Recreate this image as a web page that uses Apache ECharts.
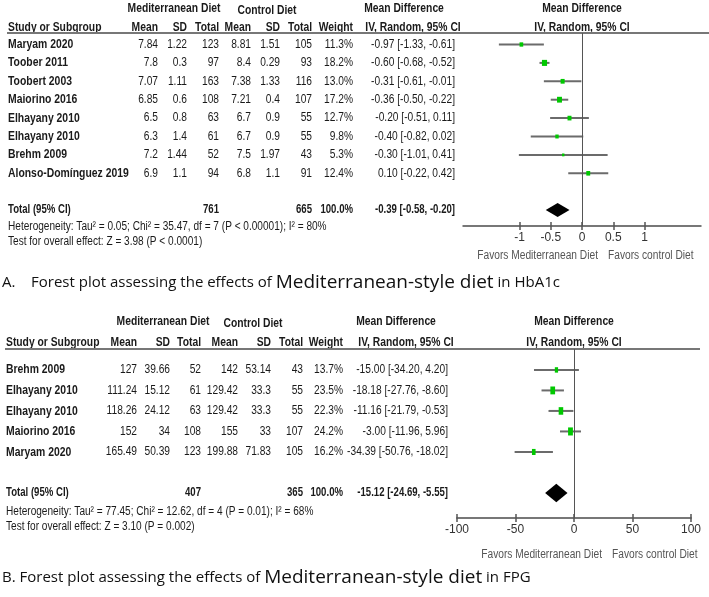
<!DOCTYPE html>
<html>
<head>
<meta charset="utf-8">
<script src="https://cdn.jsdelivr.net/npm/echarts@6/dist/echarts.min.js"></script>
<style>
  html, body { margin: 0; padding: 0; background: #fff; }
  #main { width: 709px; height: 597px; }
</style>
</head>
<body>
<div id="main"></div>
<script>
// Arial-like face squeezed sideways to look like the narrow RevMan font
const SANS = '"Liberation Sans", Arial, sans-serif';
const CAPTION = '"Open Sans", sans-serif';

// ---- panel A: HbA1c
const studiesA = ['Maryam 2020', 'Toober 2011', 'Toobert 2003', 'Maiorino 2016',
  'Elhayany 2010', 'Elhayany 2010', 'Brehm 2009', 'Alonso-Domínguez 2019'];
const medMeanA = [7.84, 7.8, 7.07, 6.85, 6.5, 6.3, 7.2, 6.9];
const medSdA = [1.22, 0.3, 1.11, 0.6, 0.8, 1.4, 1.44, 1.1];
const medNA = [123, 97, 163, 108, 63, 61, 52, 94];
const ctlMeanA = [8.81, 8.4, 7.38, 7.21, 6.7, 6.7, 7.5, 6.8];
const ctlSdA = [1.51, 0.29, 1.33, 0.4, 0.9, 0.9, 1.97, 1.1];
const ctlNA = [105, 93, 116, 107, 55, 55, 43, 91];
const weightA = [11.3, 18.2, 13.0, 17.2, 12.7, 9.8, 5.3, 12.4];
const mdA = [-0.97, -0.60, -0.31, -0.36, -0.20, -0.40, -0.30, 0.10];
const loA = [-1.33, -0.68, -0.61, -0.50, -0.51, -0.82, -1.01, -0.22];
const hiA = [-0.61, -0.52, -0.01, -0.22, 0.11, 0.02, 0.41, 0.42];
const totalNA = [761, 665];
const pooledA = [-0.39, -0.58, -0.20];
const ticksA = [-1, -0.5, 0, 0.5, 1];

// ---- panel B: FPG
const studiesB = ['Brehm 2009', 'Elhayany 2010', 'Elhayany 2010', 'Maiorino 2016', 'Maryam 2020'];
const medMeanB = [127, 111.24, 118.26, 152, 165.49];
const medSdB = [39.66, 15.12, 24.12, 34, 50.39];
const medNB = [52, 61, 63, 108, 123];
const ctlMeanB = [142, 129.42, 129.42, 155, 199.88];
const ctlSdB = [53.14, 33.3, 33.3, 33, 71.83];
const ctlNB = [43, 55, 55, 107, 105];
const weightB = [13.7, 23.5, 22.3, 24.2, 16.2];
const mdB = [-15.00, -18.18, -11.16, -3.00, -34.39];
const loB = [-34.20, -27.76, -21.79, -11.96, -50.76];
const hiB = [4.20, -8.60, -0.53, 5.96, -18.02];
const totalNB = [407, 365];
const pooledB = [-15.12, -24.69, -5.55];
const ticksB = [-100, -50, 0, 50, 100];

const panels = [
  {
    names: studiesA, m1: medMeanA, s1: medSdA, n1: medNA, m2: ctlMeanA, s2: ctlSdA, n2: ctlNA,
    w: weightA, md: mdA, lo: loA, hi: hiA, totals: totalNA, pooled: pooledA, ticks: ticksA,
    grid: { left: 463.25, top: 33, width: 237.5, height: 193 },
    xMin: -1.9, xMax: 1.9, yMin: -0.625, yMax: 9.864,
    cols: { name: 8, m1: 158, s1: 187, n1: 219, m2: 251, s2: 280, n2: 312, w: 353, md: 455 },
    sq: w => 1.5 + 0.25 * w, aspect: 0.85, half: 0.38
  },
  {
    names: studiesB, m1: medMeanB, s1: medSdB, n1: medNB, m2: ctlMeanB, s2: ctlSdB, n2: ctlNB,
    w: weightB, md: mdB, lo: loB, hi: hiB, totals: totalNB, pooled: pooledB, ticks: ticksB,
    grid: { left: 457, top: 349, width: 234, height: 169 },
    xMin: -100, xMax: 100, yMin: -1.02, yMax: 7.22,
    cols: { name: 6, m1: 137, s1: 170, n1: 201, m2: 238, s2: 271, n2: 303, w: 343, md: 448 },
    sq: w => 2 + 0.25 * w, aspect: 0.6, half: 0.45
  }
];

const fmtCI = (m, l, h) => `${m.toFixed(2)} [${l.toFixed(2)}, ${h.toFixed(2)}]`;

function txt(text, x, y, align, font, sx, fill) {
  return { type: 'text', x: x, y: y, scaleX: sx, silent: true,
    style: { text: String(text), x: 0, y: 0, align: align, verticalAlign: 'middle', font: font, fill: fill || '#1a1a1a' } };
}

function tableRenderer(p) {
  return function (params, api) {
    const i = params.dataIndex;
    const y = api.coord([0, api.value(1)])[1];
    const c = p.cols;
    const num = '12px ' + SANS;
    const bold = 'bold 12px ' + SANS;
    const cell = (v, x) => txt(v, x, y, 'right', num, 0.85);
    let kids;
    if (i < p.names.length) {
      kids = [
        txt(p.names[i], c.name, y, 'left', 'bold 13px ' + SANS, 0.8),
        cell(p.m1[i], c.m1), cell(p.s1[i], c.s1), cell(p.n1[i], c.n1),
        cell(p.m2[i], c.m2), cell(p.s2[i], c.s2), cell(p.n2[i], c.n2),
        cell(p.w[i].toFixed(1) + '%', c.w),
        cell(fmtCI(p.md[i], p.lo[i], p.hi[i]), c.md)
      ];
    } else {
      kids = [
        txt('Total (95% CI)', c.name, y, 'left', bold, 0.8),
        txt(p.totals[0], c.n1, y, 'right', bold, 0.8),
        txt(p.totals[1], c.n2, y, 'right', bold, 0.8),
        txt('100.0%', c.w, y, 'right', bold, 0.8),
        txt(fmtCI(p.pooled[0], p.pooled[1], p.pooled[2]), c.md, y, 'right', bold, 0.8)
      ];
    }
    return { type: 'group', children: kids };
  };
}

function markRenderer(p) {
  return function (params, api) {
    const row = api.value(3);
    const c = api.coord([api.value(0), row]);
    const l = api.coord([api.value(1), row]);
    const r = api.coord([api.value(2), row]);
    const h = p.sq(api.value(4));
    const wd = h * p.aspect;
    return {
      type: 'group',
      children: [
        { type: 'line', shape: { x1: l[0], y1: l[1], x2: r[0], y2: r[1] },
          style: { stroke: '#6b6b6b', lineWidth: 2 } },
        { type: 'rect', shape: { x: c[0] - wd / 2, y: c[1] - h / 2, width: wd, height: h },
          style: { fill: '#00c800' } }
      ]
    };
  };
}

function diamondRenderer(p) {
  return function (params, api) {
    const row = api.value(3);
    const c = api.coord([api.value(0), row]);
    const l = api.coord([api.value(1), row]);
    const r = api.coord([api.value(2), row]);
    const hh = api.size([0, p.half])[1];
    return {
      type: 'polygon',
      shape: { points: [[l[0], c[1]], [c[0], c[1] - hh], [r[0], c[1]], [c[0], c[1] + hh]] },
      style: { fill: '#000' }
    };
  };
}

const grids = [], xAxes = [], yAxes = [], series = [];
panels.forEach((p, k) => {
  grids.push(Object.assign({ containLabel: false, outerBoundsMode: 'none' }, p.grid));
  const base = { gridIndex: k, type: 'value', min: p.xMin, max: p.xMax, position: 'bottom',
    splitLine: { show: false } };
  xAxes.push(Object.assign({}, base, {
    axisLine: { show: true, onZero: false, lineStyle: { color: '#777', width: 2 } },
    axisTick: { show: true, customValues: p.ticks, length: 4, lineStyle: { color: '#555', width: 1.5 } },
    axisLabel: { show: true, customValues: p.ticks, margin: 6, color: '#333', fontSize: 12, fontFamily: SANS }
  }));
  xAxes.push(Object.assign({}, base, {
    axisLine: { show: false, onZero: false },
    axisTick: { show: true, inside: true, customValues: p.ticks, length: 4, lineStyle: { color: '#555', width: 1.5 } },
    axisLabel: { show: false }
  }));
  yAxes.push({ gridIndex: k, type: 'value', inverse: true, min: p.yMin, max: p.yMax, show: false });

  const n = p.names.length;
  const rows = p.names.map((_, i) => [0, i]).concat([[0, n + 1]]);
  series.push({
    type: 'custom', xAxisIndex: 2 * k, yAxisIndex: k, silent: true,
    encode: { x: 0, y: 1 }, data: rows, renderItem: tableRenderer(p)
  });
  series.push({
    type: 'custom', xAxisIndex: 2 * k, yAxisIndex: k, silent: true,
    encode: { x: [0, 1, 2], y: 3 },
    data: p.names.map((_, i) => [p.md[i], p.lo[i], p.hi[i], i, p.w[i]]),
    renderItem: markRenderer(p),
    markLine: { silent: true, symbol: 'none', label: { show: false },
      lineStyle: { color: '#555', width: 1, type: 'solid' }, data: [{ xAxis: 0 }] }
  });
  series.push({
    type: 'custom', xAxisIndex: 2 * k, yAxisIndex: k, silent: true,
    encode: { x: [0, 1, 2], y: 3 },
    data: [[p.pooled[0], p.pooled[1], p.pooled[2], n + 1]],
    renderItem: diamondRenderer(p)
  });
});

// headers, footnotes and captions
const HB = 'bold 12px ' + SANS;
const NOTE = '12px ' + SANS;
function headerRow(p, y1, y2, centers) {
  const c = p.cols;
  const h = (t, x, y, a) => txt(t, x, y, a, HB, 0.86);
  return [
    h('Mediterranean Diet', centers[0], y1, 'center'),
    h('Control Diet', centers[1], y1 + 2, 'center'),
    h('Mean Difference', centers[2], y1, 'center'),
    h('Mean Difference', centers[4], y1, 'center'),
    h('Study or Subgroup', c.name, y2, 'left'),
    h('Mean', c.m1, y2, 'right'),
    h('SD', c.s1, y2, 'right'),
    h('Total', c.n1, y2, 'right'),
    h('Mean', c.m2, y2, 'right'),
    h('SD', c.s2, y2, 'right'),
    h('Total', c.n2, y2, 'right'),
    h('Weight', c.w, y2, 'right'),
    h('IV, Random, 95% CI', centers[3], y2, 'center'),
    h('IV, Random, 95% CI', centers[4], y2, 'center')
  ];
}
function caption(label, rest, big, tail, y) {
  return { type: 'text', x: 2, y: y, silent: true,
    style: { text: `{a|${label}${rest}}{b|${big}}{a|${tail}}`, verticalAlign: 'middle', fill: '#111',
      rich: { a: { fontFamily: CAPTION, fontSize: 15, fill: '#111' },
              b: { fontFamily: CAPTION, fontSize: 19, fill: '#111' } } } };
}

const graphics = [].concat(
  headerRow(panels[0], 9, 28, [174, 267, 404, 413, 582]),
  headerRow(panels[1], 322, 343, [163, 253, 396, 406, 574]),
  [
    { type: 'line', silent: true, shape: { x1: 7, y1: 33, x2: 709, y2: 33 }, style: { stroke: '#777', lineWidth: 2 } },
    { type: 'line', silent: true, shape: { x1: 5, y1: 349, x2: 700, y2: 349 }, style: { stroke: '#777', lineWidth: 2 } },
    txt('Heterogeneity: Tau\u00b2 = 0.05; Chi\u00b2 = 35.47, df = 7 (P < 0.00001); I\u00b2 = 80%', 8, 227, 'left', NOTE, 0.84),
    txt('Test for overall effect: Z = 3.98 (P < 0.0001)', 8, 242, 'left', NOTE, 0.84),
    txt('Heterogeneity: Tau\u00b2 = 77.45; Chi\u00b2 = 12.62, df = 4 (P = 0.01); I\u00b2 = 68%', 6, 512, 'left', NOTE, 0.84),
    txt('Test for overall effect: Z = 3.10 (P = 0.002)', 6, 527, 'left', NOTE, 0.84),
    txt('Favors Mediterranean Diet', 598, 256, 'right', NOTE, 0.85, '#555'),
    txt('Favors control Diet', 608, 256, 'left', NOTE, 0.85, '#555'),
    txt('Favors Mediterranean Diet', 602, 555, 'right', NOTE, 0.85, '#555'),
    txt('Favors control Diet', 612, 555, 'left', NOTE, 0.85, '#555'),
    caption('A.    ', 'Forest plot assessing the effects of ', 'Mediterranean-style diet', ' in HbA1c', 283),
    caption('B. ', 'Forest plot assessing the effects of ', 'Mediterranean-style diet', ' in FPG', 578)
  ]
);

const chart = echarts.init(document.getElementById('main'), null, { renderer: 'canvas' });
chart.setOption({
  animation: false,
  backgroundColor: '#fff',
  grid: grids,
  xAxis: xAxes,
  yAxis: yAxes,
  series: series,
  graphic: graphics
});
</script>
</body>
</html>
